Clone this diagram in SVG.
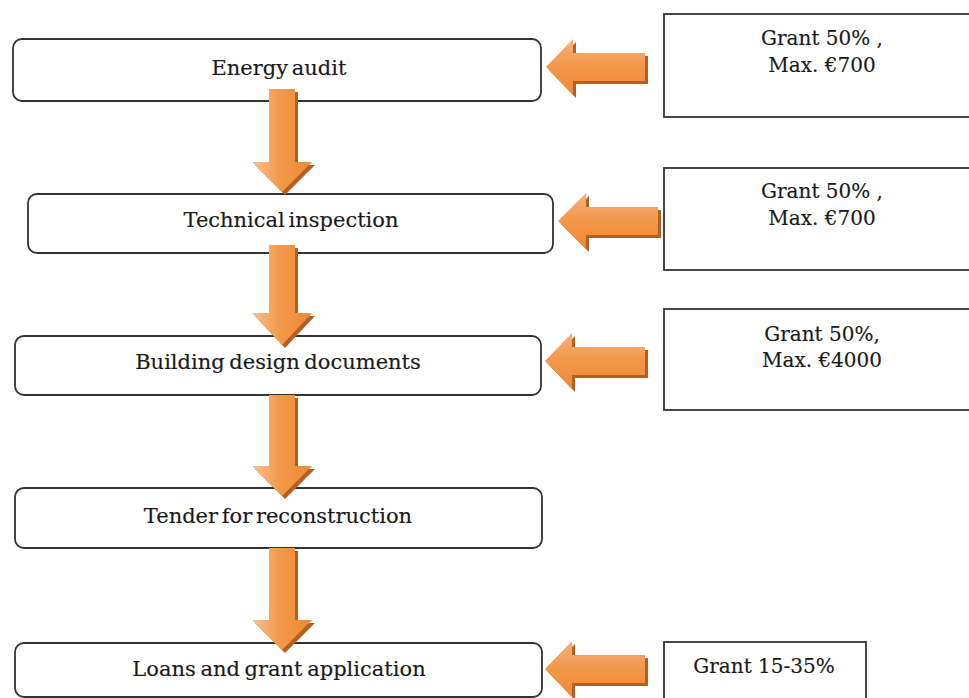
<svg xmlns="http://www.w3.org/2000/svg" width="969" height="698" viewBox="0 0 969 698">
  <defs>
    <!-- orange fills for the block arrows -->
    <linearGradient id="gradDown" x1="0" y1="0" x2="1" y2="0">
      <stop offset="0" stop-color="#f8c294"/>
      <stop offset="0.45" stop-color="#f29a4c"/>
      <stop offset="1" stop-color="#ee8834"/>
    </linearGradient>
    <linearGradient id="gradLeft" x1="0" y1="0" x2="0" y2="1">
      <stop offset="0" stop-color="#f7b07a"/>
      <stop offset="0.5" stop-color="#f2974a"/>
      <stop offset="1" stop-color="#ee8a36"/>
    </linearGradient>
  </defs>
  <style>
    .step { fill: #ffffff; stroke: #333333; stroke-width: 1.8; }
    .grant { fill: #ffffff; stroke: #333333; stroke-width: 1.8; }
    .label { font-family: "DejaVu Serif", "Liberation Serif", serif; fill: #1a1a1a; stroke: #1a1a1a; stroke-width: 0.15; text-anchor: middle; }
    .step-label { font-size: 21px; }
    .grant-label { font-size: 20px; }
    .shadow { fill: #b85e1e; }
    .down { fill: url(#gradDown); }
    .left { fill: url(#gradLeft); }
  </style>

  <rect width="969" height="698" fill="#ffffff"/>

  <!-- process steps -->
  <g id="energy-audit">
    <rect class="step" x="13" y="39" width="528" height="62" rx="9"/>
    <text class="label step-label" x="279" y="75" word-spacing="-3">Energy audit</text>
  </g>
  <g id="technical-inspection">
    <rect class="step" x="28" y="194" width="525" height="59" rx="9"/>
    <text class="label step-label" x="291" y="227" word-spacing="-3">Technical inspection</text>
  </g>
  <g id="building-design">
    <rect class="step" x="15" y="336" width="526" height="59" rx="9"/>
    <text class="label step-label" x="278" y="369" word-spacing="-2">Building design documents</text>
  </g>
  <g id="tender">
    <rect class="step" x="15" y="488" width="527" height="60" rx="9"/>
    <text class="label step-label" x="278" y="523" word-spacing="-3">Tender for reconstruction</text>
  </g>
  <g id="loans">
    <rect class="step" x="15" y="643" width="527" height="54" rx="9"/>
    <text class="label step-label" x="279" y="676" word-spacing="-2">Loans and grant application</text>
  </g>

  <!-- funding boxes -->
  <g id="grant-audit">
    <rect class="grant" x="664" y="14" width="320" height="103"/>
    <text class="label grant-label" x="822" y="45">Grant 50% ,</text>
    <text class="label grant-label" x="822" y="72">Max. €700</text>
  </g>
  <g id="grant-inspection">
    <rect class="grant" x="664" y="168" width="320" height="102"/>
    <text class="label grant-label" x="822" y="198">Grant 50% ,</text>
    <text class="label grant-label" x="822" y="225">Max. €700</text>
  </g>
  <g id="grant-design">
    <rect class="grant" x="664" y="309" width="320" height="101"/>
    <text class="label grant-label" x="822" y="341">Grant 50%,</text>
    <text class="label grant-label" x="822" y="367">Max. €4000</text>
  </g>
  <g id="grant-loans">
    <rect class="grant" x="664" y="642" width="202" height="70"/>
    <text class="label grant-label" x="764" y="673">Grant 15-35%</text>
  </g>

  <!-- block arrows -->
  <g id="connectors">
    <!-- downward flow between steps -->
    <g transform="translate(282,89)">
      <path class="shadow" transform="translate(3,3)" d="M-13,0 H13 V73 H30 L0,103 L-30,73 H-13 Z"/>
      <path class="down" d="M-13,0 H13 V73 H30 L0,103 L-30,73 H-13 Z"/>
    </g>
    <g transform="translate(282,245)">
      <path class="shadow" transform="translate(3,3)" d="M-13,0 H13 V68 H30 L0,100 L-30,68 H-13 Z"/>
      <path class="down" d="M-13,0 H13 V68 H30 L0,100 L-30,68 H-13 Z"/>
    </g>
    <g transform="translate(282,395)">
      <path class="shadow" transform="translate(3,3)" d="M-13,0 H13 V71 H30 L0,101 L-30,71 H-13 Z"/>
      <path class="down" d="M-13,0 H13 V71 H30 L0,101 L-30,71 H-13 Z"/>
    </g>
    <g transform="translate(282,548)">
      <path class="shadow" transform="translate(3,3)" d="M-13,0 H13 V72 H30 L0,102 L-30,72 H-13 Z"/>
      <path class="down" d="M-13,0 H13 V72 H30 L0,102 L-30,72 H-13 Z"/>
    </g>

    <!-- funding arrows pointing at the steps -->
    <g transform="translate(546,67)">
      <path class="shadow" transform="translate(3,3)" d="M0,0 L27,-28 V-14 H99 V14 H27 V28 Z"/>
      <path class="left" d="M0,0 L27,-28 V-14 H99 V14 H27 V28 Z"/>
    </g>
    <g transform="translate(558,221)">
      <path class="shadow" transform="translate(3,3)" d="M0,0 L28,-28 V-14 H100 V14 H28 V28 Z"/>
      <path class="left" d="M0,0 L28,-28 V-14 H100 V14 H28 V28 Z"/>
    </g>
    <g transform="translate(545,361)">
      <path class="shadow" transform="translate(3,3)" d="M0,0 L27,-28 V-14 H100 V14 H27 V28 Z"/>
      <path class="left" d="M0,0 L27,-28 V-14 H100 V14 H27 V28 Z"/>
    </g>
    <g transform="translate(545,669)">
      <path class="shadow" transform="translate(3,3)" d="M0,0 L27,-28 V-14 H100 V14 H27 V28 Z"/>
      <path class="left" d="M0,0 L27,-28 V-14 H100 V14 H27 V28 Z"/>
    </g>
  </g>
</svg>
